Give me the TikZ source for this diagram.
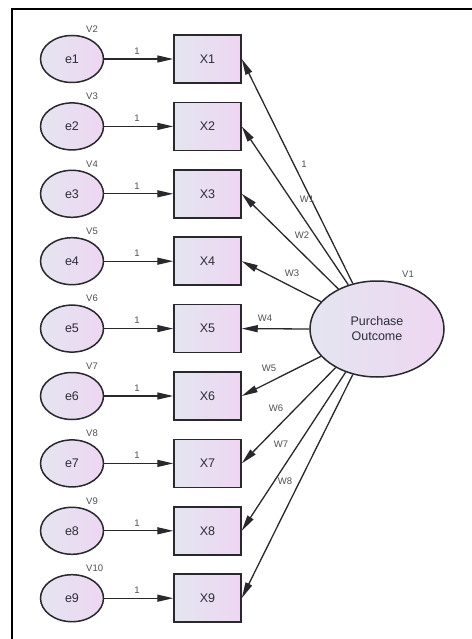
\documentclass[tikz,border=0pt]{standalone}
\usepackage{fontspec}
\setmainfont{Liberation Sans}
\usetikzlibrary{arrows.meta,shapes.geometric}
\definecolor{fillL}{RGB}{228,229,240}
\definecolor{fillR}{RGB}{238,214,242}
\definecolor{edge}{RGB}{40,40,45}
\definecolor{txt}{RGB}{45,45,55}
\definecolor{small}{RGB}{80,80,85}
\begin{document}
\begin{tikzpicture}[x=1pt,y=-1pt,
  lat/.style={ellipse, draw=edge, line width=1.5pt, minimum width=63pt, minimum height=47pt, inner sep=0pt,
    left color=fillL, right color=fillR, text=txt, font=\fontsize{12.5}{15}\selectfont},
  obs/.style={rectangle, draw=edge, line width=1.5pt, minimum width=67pt, minimum height=48pt, inner sep=0pt,
    left color=fillL, right color=fillR, text=txt, font=\fontsize{12.5}{15}\selectfont},
  lbl/.style={font=\fontsize{9.5}{9.5}\selectfont, text=small, inner sep=0pt},
  arr/.style={-{Triangle[length=16pt,width=7pt]}, line width=1.3pt, draw=edge}]
\useasboundingbox (0,0) rectangle (471,639);
\fill[white] (0,0) rectangle (471,639);
\draw[line width=2pt, line cap=rect] (12,639) -- (12,9) -- (471,9);

\foreach \i in {1,...,9} {
  \pgfmathsetmacro\yy{59+(\i-1)*67.4}
  \pgfmathtruncatemacro\vv{\i+1}
  \node[lat] (e\i) at (72,\yy) {e\i};
  \node[obs] (x\i) at (207.5,\yy) {X\i};
  \draw[arr] (e\i) -- (x\i);
  \node[lbl] (one\i) at (137,\yy-8) {1};
  \node[lbl, anchor=west] (v\vv) at (86,\yy-30) {V\vv};
}

\node[lat, minimum width=134pt, minimum height=96pt, align=center] (po) at (377,329) {Purchase\\Outcome};
\node[lbl, anchor=west] (v1) at (402,274) {V1};

\draw[arr] (po.118) -- (x1.east);
\draw[arr] (po.123) -- (x2.east);
\draw[arr] (po.134) -- (x3.east);
\draw[arr] (po.154) -- (x4.east);
\draw[arr] (po.180) -- (x5.east);
\draw[arr] (po.206) -- (x6.east);
\draw[arr] (po.223) -- (x7.east);
\draw[arr] (po.234) -- (x8.east);
\draw[arr] (po.242) -- (x9.east);

\node[lbl] (l1) at (304,164) {1};
\node[lbl] (w1) at (307,199) {W1};
\node[lbl] (w2) at (302,235) {W2};
\node[lbl] (w3) at (292,273) {W3};
\node[lbl] (w4) at (265,318) {W4};
\node[lbl] (w5) at (269,368) {W5};
\node[lbl] (w6) at (276,408) {W6};
\node[lbl] (w7) at (281,444) {W7};
\node[lbl] (w8) at (285,481) {W8};
\end{tikzpicture}
\end{document}
